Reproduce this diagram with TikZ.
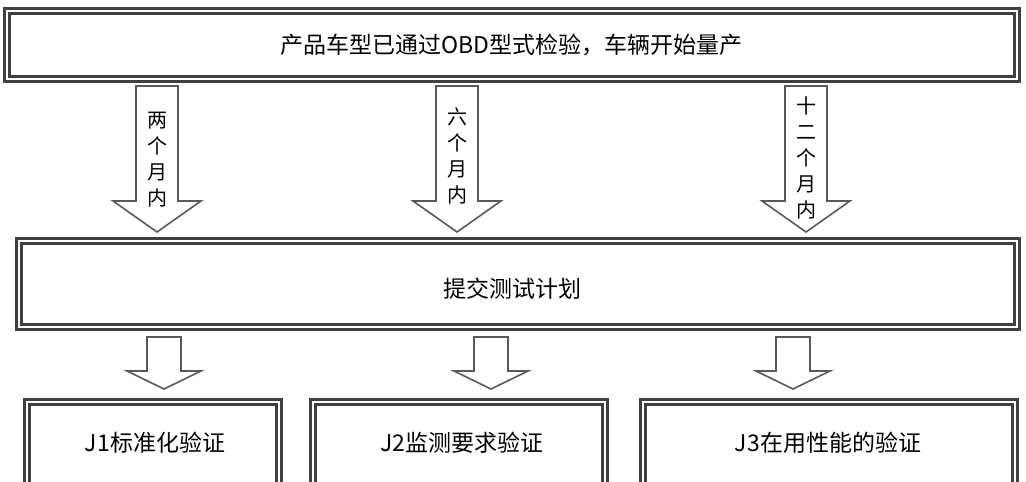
\documentclass[tikz,border=0pt]{standalone}
\usepackage{fontspec}
\setmainfont{Noto Sans CJK SC}
\begin{document}
\begin{tikzpicture}[x=1pt,y=-1pt,
  dbox/.style={draw=black!75,line width=2.4pt,double=white,double distance=2.6pt},
  barrow/.style={draw=black!65,line width=1.6pt,fill=white,line join=miter},
  lbl/.style={font=\fontsize{23}{27}\selectfont},
  vlbl/.style={font=\fontsize{20}{26}\selectfont,align=center}]
\useasboundingbox (0,0) rectangle (1026,482);
\begin{scope}
\clip (0,0) rectangle (1026,482);
\draw[dbox] (7,11) rectangle (1017,79);
\node[lbl] (top) at (511,45) {产品车型已通过OBD型式检验，车辆开始量产};
\draw[dbox] (19,241) rectangle (1017,327);
\node[lbl] (mid) at (512,289) {提交测试计划};
\draw[dbox] (27,402) rectangle (279,490);
\draw[dbox] (313,402) rectangle (605,490);
\draw[dbox] (643,402) rectangle (1015,490);
\node[lbl] (b1) at (155,443) {J1标准化验证};
\node[lbl] (b2) at (462,443) {J2监测要求验证};
\node[lbl] (b3) at (828,443) {J3在用性能的验证};
\foreach \c/\t/\yy in {157/{两\\个\\月\\内}/160, 457/{六\\个\\月\\内}/156, 806/{十\\二\\个\\月\\内}/158}{
  \draw[barrow] (\c-21,86) -- (\c+21,86) -- (\c+21,201) -- (\c+44,201) -- (\c,232) -- (\c-44,201) -- (\c-21,201) -- cycle;
  \node[vlbl] at (\c,\yy) {\t};
}
\foreach \c in {164,491,793}{
  \draw[barrow] (\c-17,337) -- (\c+17,337) -- (\c+17,371) -- (\c+37,371) -- (\c,389) -- (\c-37,371) -- (\c-17,371) -- cycle;
}
\end{scope}
\end{tikzpicture}
\end{document}
